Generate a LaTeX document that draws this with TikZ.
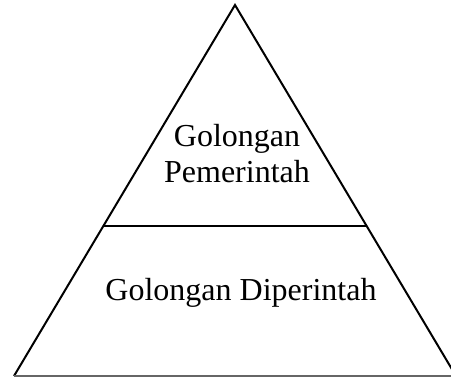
\documentclass[tikz,border=0pt]{standalone}
\usepackage{fontspec}
\setmainfont{Liberation Serif}
\usetikzlibrary{calc}

\begin{document}
\begin{tikzpicture}[
  x=1pt,y=-1pt,
  outline/.style={
    draw=black,
    line width=2pt,
    line join=miter
  },
  groundline/.style={draw=black!60,line width=2pt},
  layertext/.style={
    align=center,
    inner sep=0pt,
    anchor=base,
    font=\fontsize{32}{36}\selectfont
  }
]
\useasboundingbox (0,0) rectangle (451,377);

% Pyramid corners
\coordinate (apex) at (235,5);
\coordinate (baseL) at (14,376);
\coordinate (baseR) at (456,376);

% Divider ends on the two sides
\coordinate (divL) at ($(apex)!0.596!(baseL)$);
\coordinate (divR) at ($(apex)!0.596!(baseR)$);

% Triangle and divider
\draw[outline] (baseL) -- (apex) -- (baseR);
\draw[groundline] (baseL) -- (baseR);
\draw[outline] (divL) -- (divR);

% Labels of the two layers
\node[layertext] (ruler) at (237,183) {Golongan\\Pemerintah};
\node[layertext] (ruled) at (241,301) {Golongan Diperintah};
\end{tikzpicture}
\end{document}
